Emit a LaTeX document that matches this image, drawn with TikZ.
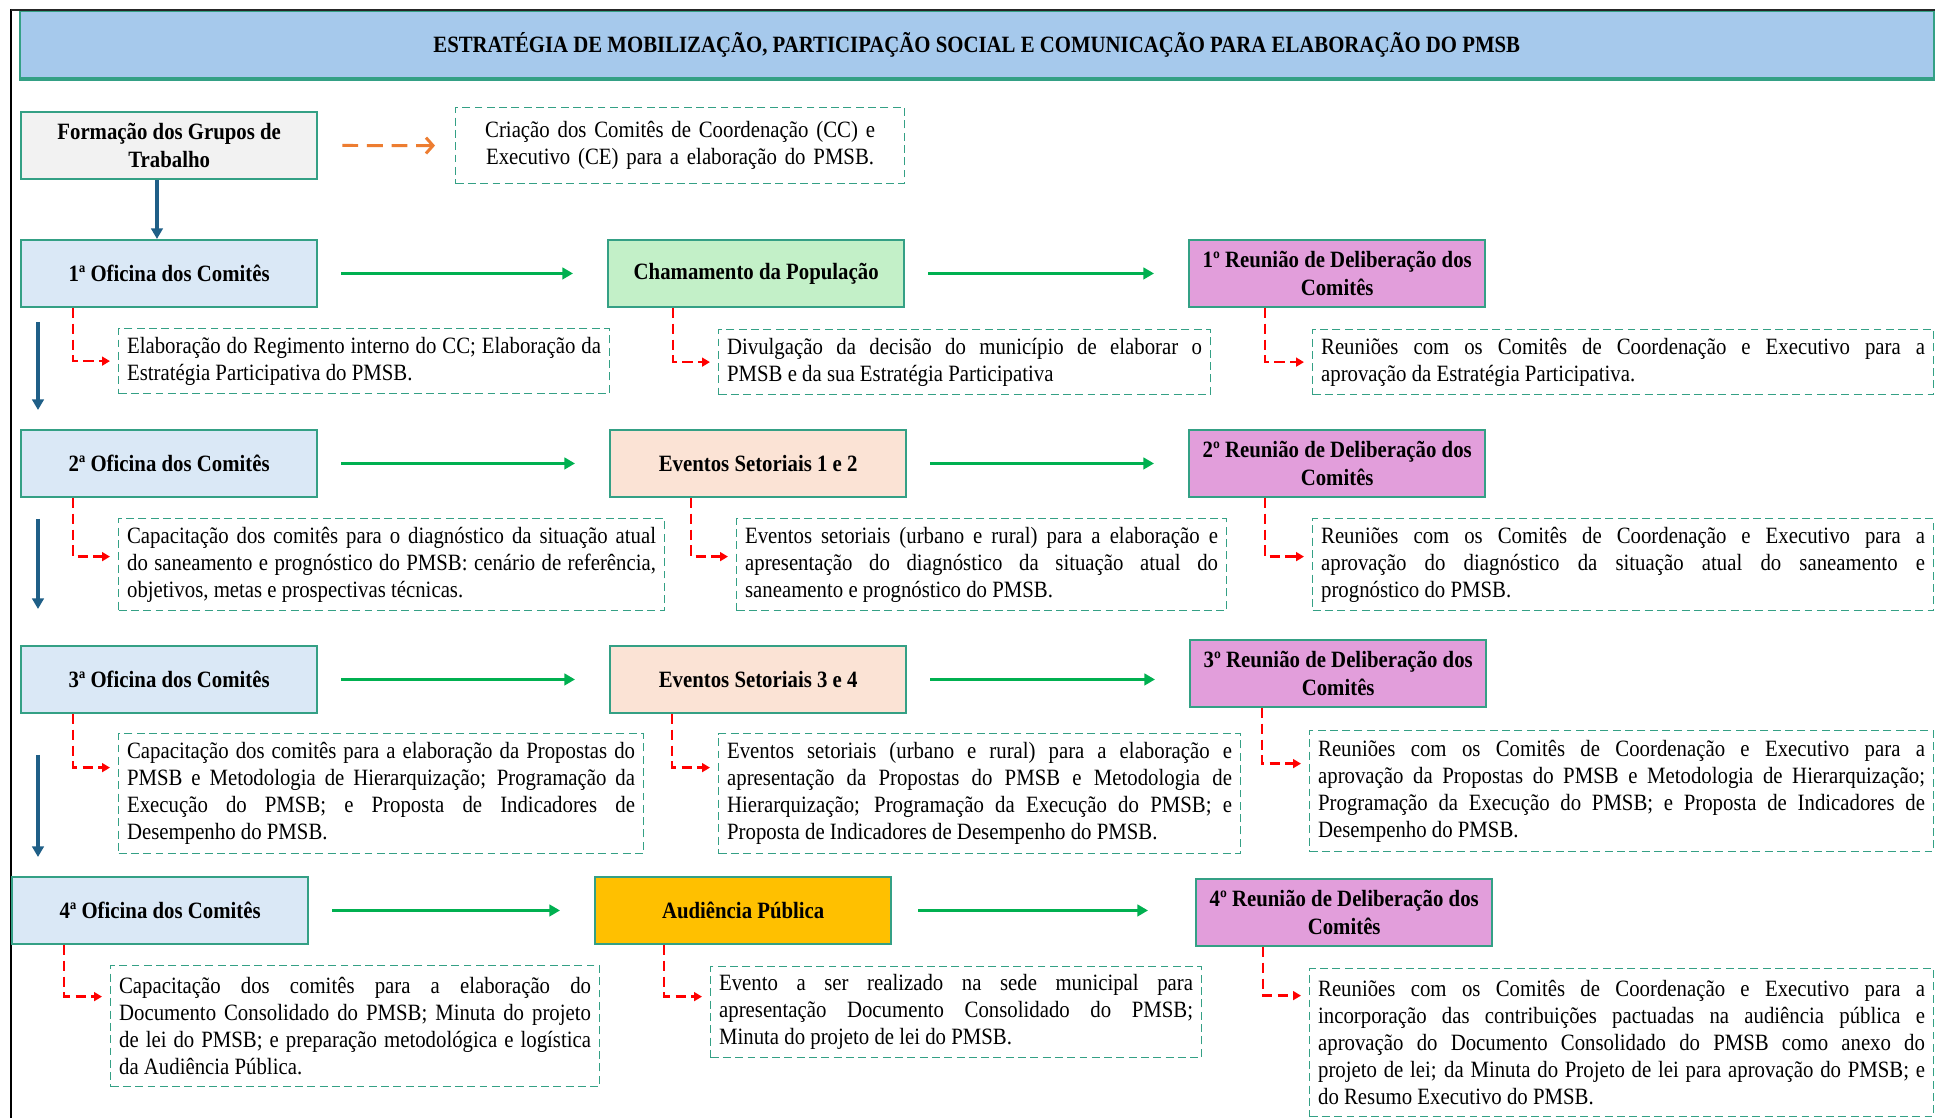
\documentclass[tikz,border=0pt]{standalone}
\usepackage{fontspec}
\setmainfont{Liberation Serif}[FakeStretch=0.89]
\usetikzlibrary{arrows.meta}

\definecolor{borda}{HTML}{34A085}
\definecolor{azultitulo}{HTML}{A6C9EC}
\definecolor{cinzaclaro}{HTML}{F2F2F2}
\definecolor{azulclaro}{HTML}{DAE8F6}
\definecolor{verdeclaro}{HTML}{C3F0C8}
\definecolor{pessego}{HTML}{FBE3D5}
\definecolor{ouro}{HTML}{FFC000}
\definecolor{lilas}{HTML}{E29EDB}
\definecolor{verdeseta}{HTML}{00B050}
\definecolor{azulseta}{HTML}{1F5F87}
\definecolor{laranja}{HTML}{ED7D31}

\begin{document}
\begin{tikzpicture}[x=0.02cm, y=-0.02cm,
    caixa/.style={draw=borda, line width=1.1pt, anchor=north west, align=center,
        minimum width=5.93cm, minimum height=1.34cm, inner sep=1pt,
        font=\bfseries\fontsize{13.3}{15.4}\selectfont},
    texto/.style={draw=borda, line width=0.7pt, dash pattern=on 4.5pt off 2.5pt,
        anchor=north west, align=justify, inner xsep=0.17cm, inner ysep=1pt,
        font=\fontsize{13.3}{15.4}\selectfont},
    passo/.style={draw=verdeseta, line width=1.7pt, -{Triangle[length=6pt, width=6.5pt]},
        shorten <=0.46cm, shorten >=0.68cm},
    desce/.style={draw=azulseta, line width=1.8pt, -{Triangle[length=6pt, width=6.5pt]}},
    liga/.style={draw=red, line width=1.5pt, dash pattern=on 6pt off 3pt,
        -{Triangle[length=4.5pt, width=5pt]}, shorten >=0.16cm},
    ]
    % --- fundo ---
    \fill[white] (0,0) rectangle (1937,1118);
    \useasboundingbox (0,0) rectangle (1937,1118);
    \draw[black, line width=0.8pt] (11,9) -- (11,1118);

    % --- título ---
    \node[caixa, fill=azultitulo, minimum width=38.28cm] (titulo) at (19,10)
        {ESTRATÉGIA DE MOBILIZAÇÃO, PARTICIPAÇÃO SOCIAL E COMUNICAÇÃO PARA ELABORAÇÃO DO PMSB};
    \draw[borda, line width=2.6pt] (titulo.south west) -- (titulo.south east);
    \draw[black!85, line width=1pt] (11,10) -- (titulo.north east);

    % --- grupos de trabalho ---
    \node[caixa, fill=cinzaclaro] (form) at (20,111) {Formação dos Grupos de\\Trabalho};
    \node[texto, align=center, text width=8.64cm, minimum height=1.52cm] (criacao) at (455,107)
        {Criação dos Comitês de Coordenação (CC) e\\Executivo (CE) para a elaboração do PMSB.};

    % --- etapas ---
    \node[caixa, fill=azulclaro] (ofi1) at (20,239) {1ª Oficina dos Comitês};
    \node[caixa, fill=verdeclaro] (cham) at (607,239) {Chamamento da População};
    \node[caixa, fill=lilas] (reu1) at (1188,239) {1º Reunião de Deliberação dos\\Comitês};

    \node[caixa, fill=azulclaro] (ofi2) at (20,429) {2ª Oficina dos Comitês};
    \node[caixa, fill=pessego] (ev12) at (609,429) {Eventos Setoriais 1 e 2};
    \node[caixa, fill=lilas] (reu2) at (1188,429) {2º Reunião de Deliberação dos\\Comitês};

    \node[caixa, fill=azulclaro] (ofi3) at (20,645) {3ª Oficina dos Comitês};
    \node[caixa, fill=pessego] (ev34) at (609,645) {Eventos Setoriais 3 e 4};
    \node[caixa, fill=lilas] (reu3) at (1189,639) {3º Reunião de Deliberação dos\\Comitês};

    \node[caixa, fill=azulclaro] (ofi4) at (11,876) {4ª Oficina dos Comitês};
    \node[caixa, fill=ouro] (aud) at (594,876) {Audiência Pública};
    \node[caixa, fill=lilas] (reu4) at (1195,878) {4º Reunião de Deliberação dos\\Comitês};

    % --- descrições ---
    \node[texto, text width=9.48cm, minimum height=1.30cm] (d1a) at (118,328)
        {Elaboração do Regimento interno do CC; Elaboração da\linebreak Estratégia Participativa do PMSB.};
    \node[texto, text width=9.50cm, minimum height=1.30cm] (d1b) at (718,329)
        {Divulgação da decisão do município de elaborar o\linebreak PMSB e da sua Estratégia Participativa};
    \node[texto, text width=12.08cm, minimum height=1.30cm] (d1c) at (1312,329)
        {Reuniões com os Comitês de Coordenação e Executivo para a\linebreak aprovação da Estratégia Participativa.};

    \node[texto, text width=10.58cm, minimum height=1.84cm] (d2a) at (118,518)
        {Capacitação dos comitês para o diagnóstico da situação atual\linebreak do saneamento e prognóstico do PMSB: cenário de referência,\linebreak objetivos, metas e prospectivas técnicas.};
    \node[texto, text width=9.46cm, minimum height=1.84cm] (d2b) at (736,518)
        {Eventos setoriais (urbano e rural) para a elaboração e\linebreak apresentação do diagnóstico da situação atual do\linebreak saneamento e prognóstico do PMSB.};
    \node[texto, text width=12.08cm, minimum height=1.84cm] (d2c) at (1312,518)
        {Reuniões com os Comitês de Coordenação e Executivo para a\linebreak aprovação do diagnóstico da situação atual do saneamento e\linebreak prognóstico do PMSB.};

    \node[texto, text width=10.16cm, minimum height=2.40cm] (d3a) at (118,733)
        {Capacitação dos comitês para a elaboração da Propostas do\linebreak PMSB e Metodologia de Hierarquização; Programação da\linebreak Execução do PMSB; e Proposta de Indicadores de\linebreak Desempenho do PMSB.};
    \node[texto, text width=10.10cm, minimum height=2.40cm] (d3b) at (718,733)
        {Eventos setoriais (urbano e rural) para a elaboração e\linebreak apresentação da Propostas do PMSB e Metodologia de\linebreak Hierarquização; Programação da Execução do PMSB; e\linebreak Proposta de Indicadores de Desempenho do PMSB.};
    \node[texto, text width=12.14cm, minimum height=2.42cm] (d3c) at (1309,730)
        {Reuniões com os Comitês de Coordenação e Executivo para a\linebreak aprovação da Propostas do PMSB e Metodologia de Hierarquização;\linebreak Programação da Execução do PMSB; e Proposta de Indicadores de\linebreak Desempenho do PMSB.};

    \node[texto, text width=9.44cm, minimum height=2.42cm] (d4a) at (110,965)
        {Capacitação dos comitês para a elaboração do\linebreak Documento Consolidado do PMSB; Minuta do projeto\linebreak de lei do PMSB; e preparação metodológica e logística\linebreak da Audiência Pública.};
    \node[texto, text width=9.48cm, minimum height=1.82cm] (d4b) at (710,966)
        {Evento a ser realizado na sede municipal para\linebreak apresentação Documento Consolidado do PMSB;\linebreak Minuta do projeto de lei do PMSB.};
    \node[texto, text width=12.14cm, minimum height=2.96cm] (d4c) at (1309,968)
        {Reuniões com os Comitês de Coordenação e Executivo para a\linebreak incorporação das contribuições pactuadas na audiência pública e\linebreak aprovação do Documento Consolidado do PMSB como anexo do\linebreak projeto de lei; da Minuta do Projeto de lei para aprovação do PMSB; e\linebreak do Resumo Executivo do PMSB.};

    % --- setas ---
    \draw[laranja, line width=1.7pt, dash pattern=on 9pt off 5pt,
        -{Straight Barb[length=4pt, width=9pt]}, shorten <=0.48cm, shorten >=0.4cm]
        (form.east) -- (criacao.west);
    \draw[desce] ([xshift=2.74cm]form.south west) -- ([xshift=2.74cm]form.south west |- ofi1.north);

    \foreach \a/\b in {ofi1/cham, cham/reu1, ofi2/ev12, ev12/reu2, ofi3/ev34, ev34/reu3, ofi4/aud}
        \draw[passo] (\a.east) -- (\a.east -| \b.west);
    \draw[passo, shorten <=0.52cm, shorten >=0.94cm] (aud.east) -- (aud.east -| reu4.west);

    \draw[desce, shorten <=0.28cm, shorten >=0.38cm]
        ([xshift=0.36cm]ofi1.south west) -- ([xshift=0.36cm]ofi1.south west |- ofi2.north);
    \draw[desce, shorten <=0.42cm, shorten >=0.72cm]
        ([xshift=0.36cm]ofi2.south west) -- ([xshift=0.36cm]ofi2.south west |- ofi3.north);
    \draw[desce, shorten <=0.82cm, shorten >=0.38cm]
        ([xshift=0.36cm]ofi3.south west) -- ([xshift=0.36cm]ofi3.south west |- ofi4.north);

    % --- ligações tracejadas ---
    \foreach \de/\para/\dx/\dy in {ofi1/d1a/1.06/0, cham/d1b/1.32/0, reu1/d1c/1.54/0,
            ofi2/d2a/1.06/0.16, ev12/d2b/1.64/0.16, reu2/d2c/1.54/0.16,
            ofi3/d3a/1.06/0.52, ev34/d3b/1.26/0.52, reu3/d3c/1.46/0.55,
            ofi4/d4a/1.06/0.59, aud/d4b/1.40/0.31, reu4/d4c/1.36/0.94}
        \draw[liga] ([xshift=\dx cm]\de.south west) |- ([yshift=\dy cm]\para.west);

\end{tikzpicture}
\end{document}
